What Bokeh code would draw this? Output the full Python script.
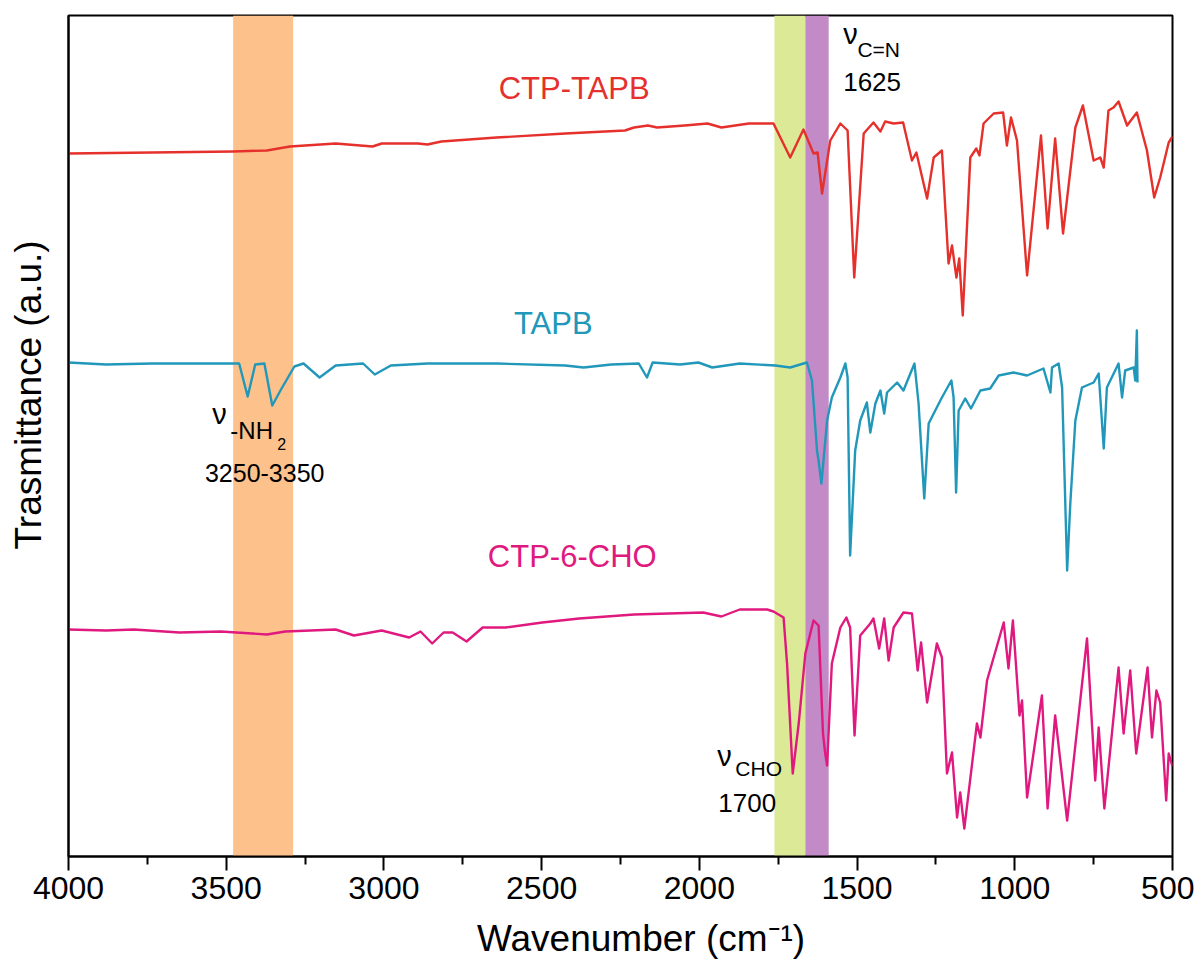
from bokeh.plotting import figure
from bokeh.models import Range1d, FixedTicker, BoxAnnotation
from bokeh.core.properties import value
from bokeh.embed import file_html
from bokeh.resources import INLINE

FONT = "Liberation Sans"

# ---------------- data (wavenumber in cm-1, transmittance in a.u.) ----------------
ctp_tapb_wn = [4000, 3735, 3478, 3371, 3298, 3153, 3036, 3007, 2891, 2862, 2818, 2643, 2425,
               2236, 2207, 2163, 2134, 2047, 1974, 1930, 1843, 1765, 1712, 1670, 1638, 1625,
               1611, 1585, 1553, 1530, 1509, 1479, 1448, 1426, 1411, 1384, 1354, 1326, 1312,
               1278, 1257, 1231, 1210, 1199, 1185, 1176, 1165, 1141, 1122, 1112, 1099, 1067,
               1037, 1025, 1012, 993, 961, 917, 896, 872, 847, 808, 784, 750, 729, 718, 703,
               687, 671, 644, 613, 581, 558, 539, 512, 500]
ctp_tapb_t = [70.3, 70.4, 70.5, 70.6, 71.0, 71.3, 71.0, 71.3, 71.3, 71.2, 71.5, 71.9, 72.3,
              72.6, 72.9, 73.1, 72.9, 73.1, 73.3, 72.9, 73.3, 73.3, 69.9, 72.7, 70.3, 70.4,
              66.3, 71.6, 73.3, 72.6, 57.9, 72.3, 73.4, 72.5, 73.5, 73.3, 73.4, 69.6, 70.4,
              65.8, 69.9, 70.6, 59.3, 61.1, 57.9, 59.8, 54.1, 69.9, 70.8, 70.1, 73.3, 74.3,
              74.4, 71.1, 73.9, 71.6, 58.1, 72.1, 62.8, 71.8, 62.3, 72.9, 75.1, 69.6, 69.9, 68.9, 74.6,
              74.9, 75.5, 73.1, 74.4, 70.6, 65.9, 67.9, 71.4, 72.0]

tapb_wn = [4000, 3881, 3735, 3590, 3502, 3459, 3432, 3408, 3379, 3354, 3328, 3284, 3255, 3204,
           3153, 3066, 3029, 2978, 2862, 2643, 2425, 2367, 2279, 2192, 2166, 2148, 2061, 2003,
           1959, 1872, 1759, 1712, 1659, 1643, 1627, 1622, 1613, 1595, 1580, 1553, 1537, 1530,
           1522, 1506, 1490, 1469, 1458, 1442, 1426, 1414, 1405, 1373, 1353, 1331, 1318, 1305,
           1287, 1273, 1257, 1231, 1201, 1194, 1186, 1178, 1157, 1139, 1109, 1078, 1051, 1004,
           961, 909, 887, 882, 861, 850, 834, 824, 808, 787, 750, 734, 718, 708, 671, 660, 650,
           623, 618, 613, 611]
tapb_t = [49.4, 49.2, 49.3, 49.3, 49.3, 49.3, 46.0, 49.2, 49.3, 45.1, 46.6, 49.0, 49.3, 47.9,
          49.1, 49.3, 48.2, 49.1, 49.3, 49.3, 49.1, 48.9, 49.2, 49.3, 47.9, 49.4, 49.2, 49.4,
          48.9, 49.3, 49.1, 48.9, 49.4, 47.6, 40.6, 39.6, 37.3, 43.6, 45.9, 47.9, 49.3, 47.9,
          30.1, 40.6, 43.6, 45.4, 42.4, 45.3, 46.6, 44.3, 46.4, 47.4, 46.6, 48.3, 49.3, 45.3,
          35.8, 43.3, 44.3, 45.9, 47.6, 45.9, 36.4, 44.6, 45.8, 44.8, 46.6, 46.8, 48.1, 48.4,
          48.1, 48.8, 46.4, 48.9, 49.3, 46.9, 28.6, 35.3, 43.6, 46.9, 47.4, 48.3, 40.8, 46.9,
          49.3, 45.9, 48.6, 48.9, 47.6, 52.6, 47.4]

ctp6cho_wn = [4000, 3881, 3793, 3648, 3517, 3371, 3313, 3153, 3095, 3007, 2920, 2884, 2847,
              2811, 2782, 2738, 2687, 2614, 2498, 2381, 2207, 1988, 1930, 1872, 1785, 1765,
              1733, 1722, 1704, 1685, 1664, 1638, 1622, 1608, 1601, 1595, 1580, 1553, 1534,
              1522, 1508, 1490, 1458, 1448, 1430, 1414, 1400, 1384, 1353, 1326, 1308, 1297,
              1278, 1247, 1231, 1215, 1199, 1183, 1173, 1160, 1120, 1109, 1088, 1035, 1020,
              1006, 985, 977, 961, 914, 896, 872, 834, 771, 745, 734, 716, 671, 655, 634, 615,
              579, 565, 551, 539, 520, 512, 500]
ctp6cho_t = [22.7, 22.6, 22.7, 22.4, 22.5, 22.2, 22.5, 22.7, 22.1, 22.6, 21.9, 22.5, 21.3,
             22.4, 22.4, 21.5, 22.9, 22.9, 23.4, 23.8, 24.2, 24.4, 24.0, 24.7, 24.7, 24.5,
             23.9, 19.3, 8.3, 13.3, 20.3, 23.6, 23.1, 12.3, 10.3, 9.1, 19.3, 22.9, 23.9,
             22.9, 12.1, 22.1, 23.3, 23.8, 20.8, 23.8, 19.6, 22.9, 24.4, 24.3, 18.6, 21.4,
             15.4, 21.3, 19.9, 8.3, 10.4, 3.9, 6.4, 2.8, 13.3, 11.9, 17.6, 23.4, 18.8,
             23.6, 14.1, 15.6, 5.9, 16.1, 4.8, 14.1, 3.6, 21.8, 7.6, 12.9, 4.8, 18.9, 12.3, 18.6, 10.3,
             18.9, 11.9, 16.6, 15.4, 5.6, 10.3, 9.0]

series_names = ["CTP-TAPB", "TAPB", "CTP-6-CHO"]
series_colors = ["#E5302C", "#2198BA", "#E0197F"]
label_wn = [2397, 2463, 2403]
label_t = [76.8, 53.3, 30.0]

band_left = [3478, 1762, 1664]
band_right = [3288, 1664, 1590]
band_colors = ["#FDC28C", "#DCE996", "#C28AC6"]

x_ticks = [4000, 3500, 3000, 2500, 2000, 1500, 1000, 500]
x_minor = [3750, 3250, 2750, 2250, 1750, 1250, 750]

NBSP = "\u00a0"

# ---------------- figure ----------------
p = figure(width=1194, height=965, output_backend="svg", toolbar_location=None,
           x_range=Range1d(4000, 500), y_range=Range1d(0, 84.1),
           min_border_left=68, min_border_right=22, min_border_top=15, min_border_bottom=109)
p.background_fill_color = "white"
p.border_fill_color = "white"
p.grid.visible = False
p.outline_line_color = "black"
p.outline_line_width = 2

for l, r, c in zip(band_left, band_right, band_colors):
    p.add_layout(BoxAnnotation(left=r, right=l, fill_color=c, fill_alpha=1.0,
                               line_color=None, level="underlay"))

for wn, t, c in zip([ctp_tapb_wn, tapb_wn, ctp6cho_wn], [ctp_tapb_t, tapb_t, ctp6cho_t], series_colors):
    p.line(wn, t, line_color=c, line_width=2.4, line_join="round")

for name, c, x, y in zip(series_names, series_colors, label_wn, label_t):
    p.text(x=[x], y=[y], text=[name], text_color=c, text_font=value(FONT),
           text_font_size="31px", text_align="center", text_baseline="middle")

def ann(x, y, s, size, align="left"):
    p.text(x=[x], y=[y], text=[s], text_color="black", text_font=value(FONT),
           text_font_size=size, text_align=align, text_baseline="alphabetic")

# annotations: -NH2
ann(3544, 44.3, "ν", "29px")
ann(3487, 42.6, "-NH", "24px")
ann(3338, 41.3, "2", "16px")
ann(3378, 38.4, "3250-3350", "25px", "center")
# C=N
ann(1544, 82.3, "ν", "29px")
ann(1499, 80.7, "C=N", "21px")
ann(1544, 77.5, "1625", "26px")
# CHO
ann(1943, 10.1, "ν", "29px")
ann(1886, 8.8, "CHO", "21px")
ann(1940, 5.4, "1700", "26px")

# axes
xa = p.xaxis[0]
xa.ticker = FixedTicker(ticks=x_ticks, minor_ticks=x_minor)
xa.axis_label = NBSP * 4 + "Wavenumber (cm⁻¹)"
xa.axis_label_text_font = FONT
xa.axis_label_text_font_size = "37px"
xa.axis_label_text_font_style = "normal"
xa.axis_label_text_color = "black"
xa.axis_label_standoff = 16
xa.major_label_text_font = FONT
xa.major_label_text_font_size = "32px"
xa.major_label_text_color = "black"
xa.major_label_standoff = 6
xa.axis_line_width = 2
xa.axis_line_color = "black"
xa.major_tick_line_width = 2
xa.minor_tick_line_width = 2
xa.major_tick_line_color = "black"
xa.minor_tick_line_color = "black"
xa.major_tick_in = 0
xa.major_tick_out = 14
xa.minor_tick_in = 0
xa.minor_tick_out = 8

ya = p.yaxis[0]
ya.ticker = FixedTicker(ticks=[])
ya.axis_label = NBSP * 8 + "Trasmittance (a.u.)"
ya.axis_label_text_font = FONT
ya.axis_label_text_font_size = "37px"
ya.axis_label_text_font_style = "normal"
ya.axis_label_text_color = "black"
ya.axis_label_standoff = 20
ya.axis_line_width = 2
ya.axis_line_color = "black"

open("out.html", "w").write(file_html(p, INLINE))
